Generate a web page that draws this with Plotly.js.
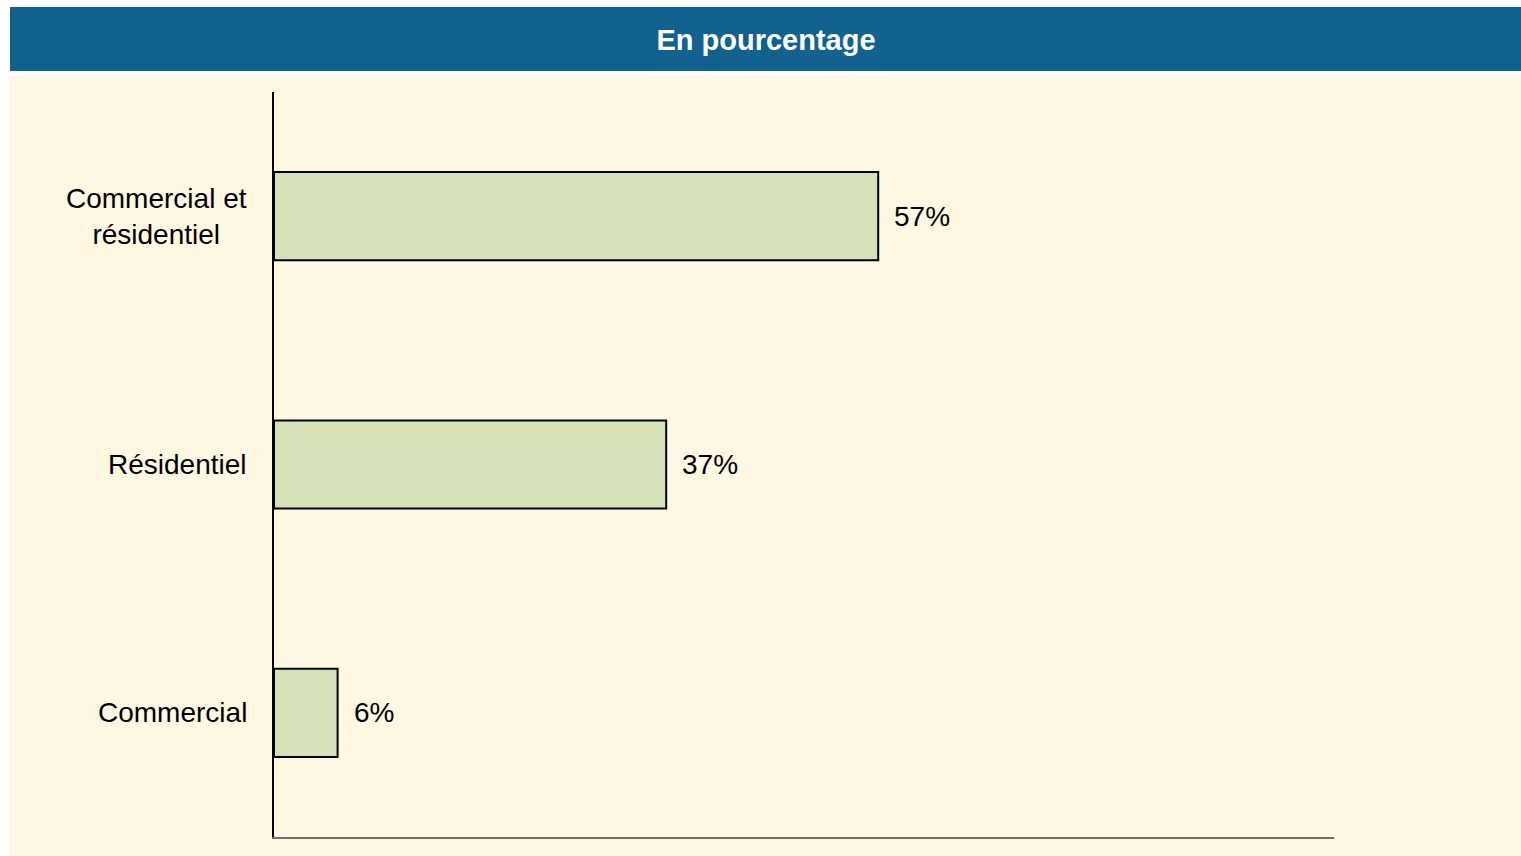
<!DOCTYPE html>
<html>
<head>
<meta charset="utf-8">
<script src="https://cdn.plot.ly/plotly-3.0.1.min.js"></script>
<style>html,body{margin:0;padding:0;background:#ffffff;}#chart{width:1521px;height:856px;}</style>
</head>
<body>
<div id="chart"></div>
<script>
const categories = ["Commercial", "Résidentiel", "Commercial et résidentiel"];
const categoryLabels = ["Commercial", "Résidentiel", "Commercial et<br>résidentiel"];
const values = [6, 37, 57];
const valueLabels = ["6%", "37%", "57%"];
const chartTitle = "En pourcentage";

const FONT = "Liberation Sans, Arial, sans-serif";

const L = 274, R = 187, T = 92, B = 19;
const PW = 1521 - L - R, PH = 856 - T - B;

const trace = {
  type: "bar",
  orientation: "h",
  x: values,
  y: categories,
  width: 0.355,
  marker: {color: "#D5E2B8", line: {color: "#000000", width: 2}},
  hoverinfo: "none"
};

const valueAnnotations = values.map((v, i) => ({
  x: v, y: categories[i], xref: "x", yref: "y",
  text: valueLabels[i], showarrow: false,
  xanchor: "left", yanchor: "middle", xshift: 14,
  font: {family: FONT, size: 28, color: "#000000"}
}));

const categoryAnnotations = categories.map((c, i) => ({
  x: 0, y: c, xref: "paper", yref: "y",
  text: categoryLabels[i], showarrow: false,
  xanchor: "right", yanchor: "middle", align: "center", xshift: -25,
  font: {family: FONT, size: 28, color: "#000000"}
}));

const layout = {
  width: 1521, height: 856,
  margin: {l: L, r: R, t: T, b: B, pad: 0},
  paper_bgcolor: "#ffffff",
  plot_bgcolor: "rgba(0,0,0,0)",
  showlegend: false,
  title: {
    text: "<b>" + chartTitle + "</b>",
    font: {family: FONT, size: 29, color: "#ffffff"},
    x: 766 / 1521, xanchor: "center", xref: "container",
    y: 1 - 40 / 856, yanchor: "middle", yref: "container"
  },
  xaxis: {
    range: [0, 100], showgrid: false, zeroline: false,
    showticklabels: false, ticks: "",
    showline: true, linecolor: "#6e6e6e", linewidth: 2, fixedrange: true
  },
  yaxis: {
    type: "category", range: [-0.5, 2.5],
    showgrid: false, zeroline: false, ticks: "",
    showticklabels: false,
    showline: true, linecolor: "#000000", linewidth: 2, fixedrange: true
  },
  shapes: [
    {type: "rect", xref: "paper", yref: "paper", layer: "below",
     x0: (9 - L) / PW, x1: (1521 - L) / PW,
     y0: (856 - B - 856) / PH, y1: (856 - B - 76) / PH,
     fillcolor: "#FEF8E3", line: {width: 0}},
    {type: "rect", xref: "paper", yref: "paper", layer: "below",
     x0: (10 - L) / PW, x1: (1521 - L) / PW,
     y0: (856 - B - 71) / PH, y1: (856 - B - 7) / PH,
     fillcolor: "#126290", line: {width: 0}}
  ],
  annotations: valueAnnotations.concat(categoryAnnotations)
};

Plotly.newPlot("chart", [trace], layout, {displayModeBar: false, staticPlot: true});
</script>
</body>
</html>
